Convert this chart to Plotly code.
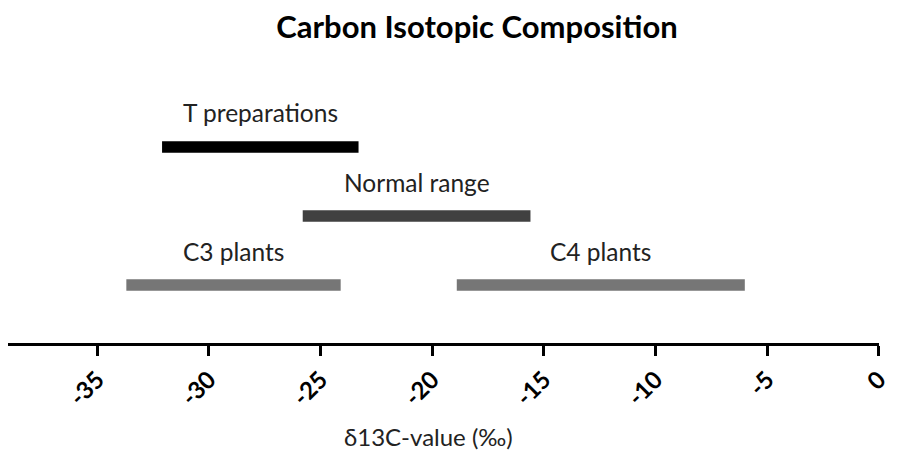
import plotly.graph_objects as go

categories = ["T preparations", "Normal range", "C3 plants", "C4 plants"]
range_start = [-32.1, -25.8, -33.7, -18.9]
range_end = [-23.3, -15.6, -24.1, -6.0]
rows = [3, 2, 1, 1]
colors = ["#000000", "#404040", "#767676", "#767676"]
tick_vals = [-35, -30, -25, -20, -15, -10, -5, 0]
tick_text = ["-35", "-30", "-25", "-20", "-15", "-10", "-5", "0"]

FONT = "Lato, 'Open Sans', sans-serif"
W, H = 883, 451

fig = go.Figure()
fig.add_trace(go.Bar(
    y=rows,
    x=[e - s for s, e in zip(range_start, range_end)],
    base=range_start,
    orientation="h",
    width=0.165,
    marker=dict(color=colors, line=dict(width=0)),
    hoverinfo="skip",
    showlegend=False,
))

for name, s, e, r in zip(categories, range_start, range_end, rows):
    fig.add_annotation(
        x=(s + e) / 2, y=r, xref="x", yref="y",
        text=name, showarrow=False, yshift=34,
        font=dict(family=FONT, size=24.5, color="#222222"),
    )

fig.add_annotation(
    x=420 / 871, y=-0.332, xref="paper", yref="paper",
    xanchor="center", yanchor="middle",
    text="δ13C-value (‰)", showarrow=False,
    font=dict(family=FONT, size=24, color="#222222"),
)

fig.update_layout(
    width=W, height=H,
    margin=dict(l=0, r=12, t=52, b=116, autoexpand=False),
    paper_bgcolor="white", plot_bgcolor="white",
    barmode="overlay",
    title=dict(text="<b>Carbon Isotopic Composition</b>", x=469 / W, xanchor="center",
               y=1 - 19 / H, yanchor="middle",
               font=dict(family=FONT, size=31, color="#000000")),
    xaxis=dict(
        range=[-39.0, 0.01], showgrid=False, zeroline=False, automargin=False,
        showline=True, linecolor="black", linewidth=3,
        ticks="outside", ticklen=10, tickwidth=3, tickcolor="black",
        tickvals=tick_vals, ticktext=tick_text, tickangle=-45,
        ticklabeloverflow="allow",
        tickfont=dict(family=FONT, size=24, color="black", weight="bold"),
    ),
    yaxis=dict(range=[0.16, 4.26], visible=False, showgrid=False, zeroline=False),
)

fig.write_html("out.html")
